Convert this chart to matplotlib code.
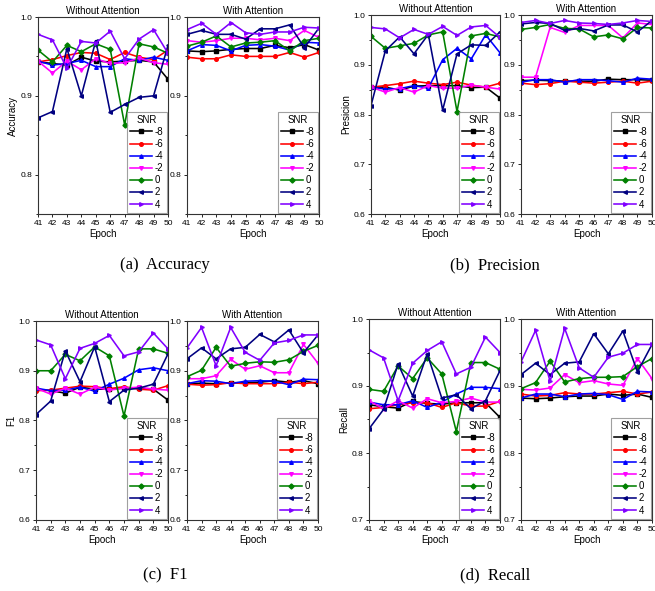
import matplotlib
matplotlib.use("Agg")
import matplotlib.pyplot as plt
from matplotlib.ticker import MultipleLocator, FormatStrFormatter

epochs = [41, 42, 43, 44, 45, 46, 47, 48, 49, 50]
snr_labels = ["-8", "-6", "-4", "-2", "0", "2", "4"]

# order of series: -8, -6, -4, -2, 0, 2, 4
acc_without = [
    [0.943, 0.941, 0.939, 0.949, 0.944, 0.943, 0.944, 0.945, 0.943, 0.921],
    [0.943, 0.946, 0.951, 0.955, 0.954, 0.946, 0.955, 0.949, 0.946, 0.958],
    [0.944, 0.939, 0.941, 0.945, 0.937, 0.937, 0.947, 0.945, 0.949, 0.945],
    [0.944, 0.929, 0.944, 0.933, 0.947, 0.941, 0.942, 0.948, 0.942, 0.940],
    [0.958, 0.943, 0.964, 0.956, 0.966, 0.959, 0.863, 0.966, 0.962, 0.954],
    [0.872, 0.880, 0.960, 0.900, 0.970, 0.879, 0.889, 0.898, 0.900, 0.964],
    [0.978, 0.971, 0.935, 0.969, 0.967, 0.982, 0.947, 0.972, 0.984, 0.954],
]
acc_with = [
    [0.957, 0.956, 0.957, 0.959, 0.960, 0.960, 0.964, 0.961, 0.965, 0.958],
    [0.949, 0.947, 0.947, 0.952, 0.950, 0.950, 0.950, 0.955, 0.949, 0.955],
    [0.957, 0.965, 0.964, 0.957, 0.964, 0.965, 0.963, 0.958, 0.968, 0.967],
    [0.970, 0.968, 0.970, 0.973, 0.973, 0.971, 0.973, 0.970, 0.983, 0.974],
    [0.963, 0.968, 0.976, 0.962, 0.967, 0.968, 0.970, 0.957, 0.970, 0.973],
    [0.978, 0.983, 0.978, 0.978, 0.972, 0.985, 0.985, 0.990, 0.961, 0.986],
    [0.984, 0.992, 0.978, 0.993, 0.980, 0.978, 0.981, 0.981, 0.987, 0.986],
]
pre_without = [
    [0.855, 0.855, 0.849, 0.857, 0.858, 0.858, 0.858, 0.854, 0.855, 0.833],
    [0.855, 0.858, 0.862, 0.867, 0.863, 0.860, 0.865, 0.859, 0.855, 0.863],
    [0.855, 0.851, 0.852, 0.858, 0.853, 0.910, 0.933, 0.912, 0.960, 0.924],
    [0.855, 0.845, 0.854, 0.845, 0.858, 0.853, 0.853, 0.859, 0.855, 0.851],
    [0.957, 0.933, 0.938, 0.943, 0.960, 0.966, 0.806, 0.958, 0.963, 0.956],
    [0.818, 0.928, 0.956, 0.922, 0.961, 0.809, 0.922, 0.940, 0.939, 0.966],
    [0.975, 0.972, 0.954, 0.971, 0.961, 0.977, 0.959, 0.976, 0.979, 0.955],
]
pre_with = [
    [0.868, 0.869, 0.868, 0.867, 0.867, 0.867, 0.871, 0.870, 0.870, 0.869],
    [0.863, 0.860, 0.862, 0.867, 0.865, 0.863, 0.865, 0.867, 0.863, 0.867],
    [0.865, 0.870, 0.870, 0.865, 0.870, 0.870, 0.868, 0.865, 0.873, 0.871],
    [0.875, 0.875, 0.975, 0.965, 0.979, 0.979, 0.979, 0.954, 0.984, 0.981],
    [0.971, 0.975, 0.981, 0.973, 0.972, 0.956, 0.960, 0.952, 0.975, 0.974],
    [0.982, 0.985, 0.983, 0.969, 0.973, 0.968, 0.980, 0.980, 0.966, 0.989],
    [0.985, 0.989, 0.983, 0.989, 0.984, 0.983, 0.981, 0.984, 0.989, 0.987],
]
f1_without = [
    [0.863, 0.860, 0.855, 0.867, 0.863, 0.863, 0.865, 0.865, 0.863, 0.841],
    [0.860, 0.861, 0.865, 0.869, 0.868, 0.864, 0.868, 0.863, 0.861, 0.870],
    [0.865, 0.860, 0.861, 0.867, 0.859, 0.873, 0.885, 0.902, 0.906, 0.900],
    [0.865, 0.853, 0.865, 0.853, 0.867, 0.861, 0.865, 0.867, 0.863, 0.861],
    [0.900, 0.900, 0.933, 0.920, 0.948, 0.930, 0.809, 0.944, 0.944, 0.935],
    [0.812, 0.839, 0.940, 0.878, 0.948, 0.838, 0.861, 0.865, 0.873, 0.934],
    [0.962, 0.952, 0.884, 0.945, 0.955, 0.971, 0.930, 0.938, 0.976, 0.944],
]
f1_with = [
    [0.874, 0.875, 0.874, 0.876, 0.876, 0.877, 0.880, 0.877, 0.880, 0.874],
    [0.873, 0.871, 0.872, 0.876, 0.874, 0.874, 0.874, 0.877, 0.874, 0.877],
    [0.874, 0.880, 0.879, 0.874, 0.879, 0.880, 0.879, 0.872, 0.883, 0.882],
    [0.884, 0.884, 0.890, 0.923, 0.903, 0.910, 0.896, 0.896, 0.953, 0.915],
    [0.888, 0.901, 0.947, 0.909, 0.915, 0.918, 0.917, 0.922, 0.939, 0.951],
    [0.924, 0.946, 0.924, 0.944, 0.947, 0.973, 0.958, 0.982, 0.936, 0.972],
    [0.946, 0.987, 0.910, 0.987, 0.937, 0.921, 0.956, 0.961, 0.972, 0.972],
]
rec_without = [
    [0.872, 0.869, 0.867, 0.877, 0.874, 0.873, 0.875, 0.875, 0.875, 0.853],
    [0.866, 0.868, 0.872, 0.875, 0.875, 0.868, 0.875, 0.870, 0.870, 0.877],
    [0.876, 0.872, 0.872, 0.878, 0.868, 0.876, 0.888, 0.898, 0.898, 0.896],
    [0.878, 0.866, 0.878, 0.867, 0.881, 0.875, 0.877, 0.882, 0.876, 0.876],
    [0.895, 0.892, 0.930, 0.911, 0.942, 0.918, 0.832, 0.935, 0.935, 0.925],
    [0.836, 0.865, 0.933, 0.885, 0.948, 0.882, 0.887, 0.866, 0.878, 0.923],
    [0.954, 0.942, 0.878, 0.934, 0.953, 0.966, 0.918, 0.928, 0.973, 0.950],
]
rec_with = [
    [0.882, 0.881, 0.882, 0.884, 0.885, 0.885, 0.888, 0.886, 0.888, 0.883],
    [0.888, 0.885, 0.886, 0.890, 0.888, 0.888, 0.890, 0.892, 0.888, 0.891],
    [0.882, 0.888, 0.888, 0.884, 0.888, 0.889, 0.887, 0.880, 0.892, 0.891],
    [0.895, 0.894, 0.897, 0.917, 0.905, 0.908, 0.903, 0.901, 0.941, 0.911],
    [0.896, 0.905, 0.937, 0.906, 0.911, 0.913, 0.913, 0.914, 0.929, 0.941],
    [0.917, 0.934, 0.917, 0.934, 0.936, 0.978, 0.948, 0.982, 0.921, 0.962],
    [0.936, 0.983, 0.907, 0.986, 0.927, 0.913, 0.943, 0.949, 0.962, 0.962],
]

colors = ["#000000", "#FF0000", "#0000FF", "#FF00FF", "#008000", "#000080", "#8000FF"]
markers = ["s", "o", "^", "v", "D", "<", ">"]

plt.rcParams["font.family"] = ["Liberation Sans", "DejaVu Sans"]

fig = plt.figure(figsize=(6.55, 5.91), dpi=100)

W, H = 655.0, 591.0


def box(l, r, t, b):
    return [l / W, 1 - b / H, (r - l) / W, (b - t) / H]


panels = [
    (box(38, 168, 17, 214), acc_without, "Without Attention", "Accuracy", (0.75, 1.0)),
    (box(187, 319, 17, 214), acc_with, "With Attention", None, (0.75, 1.0)),
    (box(371, 500, 15, 214), pre_without, "Without Attention", "Presicion", (0.6, 1.0)),
    (box(521, 652, 15, 214), pre_with, "With Attention", None, (0.6, 1.0)),
    (box(36, 168, 321, 520), f1_without, "Without Attention", "F1", (0.6, 1.0)),
    (box(187, 318, 321, 520), f1_with, "With Attention", None, (0.6, 1.0)),
    (box(369, 500, 319, 520), rec_without, "Without Attention", "Recall", (0.7, 1.0)),
    (box(521, 652, 319, 520), rec_with, "With Attention", None, (0.7, 1.0)),
]

for rect, data, title, ylabel, ylim in panels:
    ax = fig.add_axes(rect)
    for vals, c, m, lab in zip(data, colors, markers, snr_labels):
        ax.plot(epochs, vals, color=c, marker=m, markersize=2.6, linewidth=1.15, label=lab)
    ax.set_xlim(41, 50)
    ax.set_ylim(*ylim)
    ax.set_xticks(epochs)
    ax.yaxis.set_major_locator(MultipleLocator(0.1))
    ax.yaxis.set_minor_locator(MultipleLocator(0.05))
    ax.yaxis.set_major_formatter(FormatStrFormatter("%.1f"))
    ax.tick_params(axis="both", which="major", labelsize=6, length=2.5, width=0.6, pad=1.5, direction="out")
    ax.tick_params(axis="y", which="minor", length=1.5, width=0.6, direction="out")
    for sp in ax.spines.values():
        sp.set_linewidth(0.8)
        sp.set_color("#333333")
    ax.set_title(title, fontsize=7, pad=2.5)
    ax.set_xlabel("Epoch", fontsize=7, labelpad=2)
    if ylabel:
        ax.set_ylabel(ylabel, fontsize=7, labelpad=2)
    leg = ax.legend(loc="lower right", title="SNR", fontsize=7, title_fontsize=7,
                    frameon=True, fancybox=False, borderaxespad=0.15, labelspacing=0.22,
                    handlelength=2.3, handletextpad=0.3, borderpad=0.3, markerscale=1.0)
    leg.get_frame().set_edgecolor("#888888")
    leg.get_frame().set_linewidth(0.8)

fig.text(165 / W, 1 - 265 / H, "(a)  Accuracy", ha="center", va="center", fontsize=12, family="Liberation Serif")
fig.text(495 / W, 1 - 265 / H, "(b)  Precision", ha="center", va="center", fontsize=12, family="Liberation Serif")
fig.text(165 / W, 1 - 575 / H, "(c)  F1", ha="center", va="center", fontsize=12, family="Liberation Serif")
fig.text(495 / W, 1 - 575 / H, "(d)  Recall", ha="center", va="center", fontsize=12, family="Liberation Serif")

fig.savefig("out.png", dpi=100)
